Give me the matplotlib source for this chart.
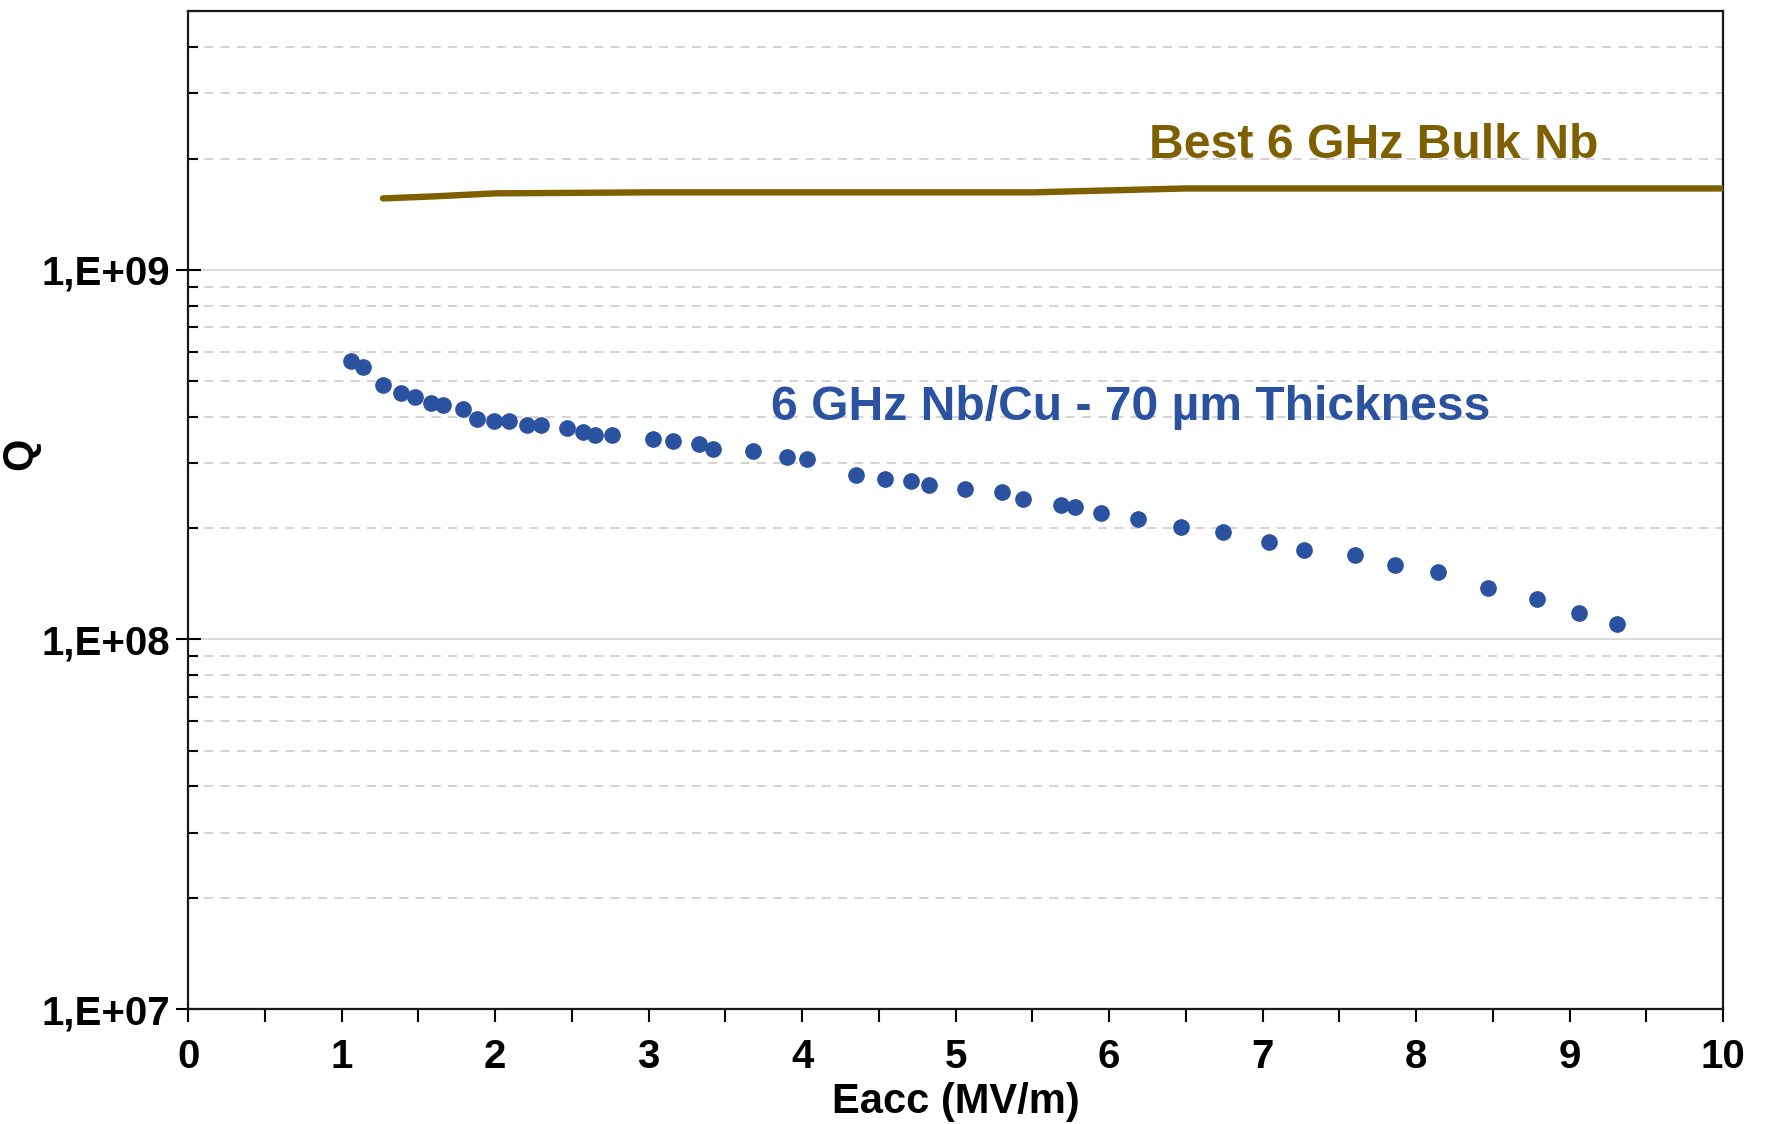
import math
import matplotlib
matplotlib.use("Agg")
import matplotlib.pyplot as plt
from matplotlib.ticker import FixedLocator, FuncFormatter, MultipleLocator, NullFormatter

plt.rcParams['font.family'] = ['Liberation Sans', 'DejaVu Sans']
plt.rcParams['font.weight'] = 'bold'

# Q vs accelerating field, 6 GHz Nb/Cu cavity (70 um film)
eacc_nbcu = [1.06, 1.14, 1.27, 1.39, 1.48, 1.58, 1.66, 1.79, 1.88, 1.99,
             2.09, 2.21, 2.30, 2.47, 2.57, 2.65, 2.76, 3.03, 3.16, 3.33,
             3.42, 3.68, 3.90, 4.03, 4.35, 4.54, 4.71, 4.83, 5.06, 5.30,
             5.44, 5.69, 5.78, 5.95, 6.19, 6.47, 6.74, 7.04, 7.27, 7.60,
             7.86, 8.14, 8.47, 8.79, 9.06, 9.31]
q_nbcu = [5.68e8, 5.47e8, 4.89e8, 4.65e8, 4.52e8, 4.36e8, 4.30e8, 4.21e8, 3.95e8, 3.90e8,
          3.91e8, 3.81e8, 3.81e8, 3.73e8, 3.65e8, 3.58e8, 3.58e8, 3.48e8, 3.45e8, 3.38e8,
          3.27e8, 3.24e8, 3.11e8, 3.07e8, 2.79e8, 2.72e8, 2.69e8, 2.62e8, 2.55e8, 2.50e8,
          2.40e8, 2.31e8, 2.28e8, 2.20e8, 2.12e8, 2.01e8, 1.95e8, 1.84e8, 1.75e8, 1.69e8,
          1.59e8, 1.52e8, 1.38e8, 1.29e8, 1.18e8, 1.10e8]

# best bulk Nb reference curve
eacc_bulk = [1.27, 1.6, 2.0, 3.0, 4.0, 5.5, 6.5, 10.0]
q_bulk = [1.56e9, 1.58e9, 1.61e9, 1.62e9, 1.62e9, 1.62e9, 1.66e9, 1.66e9]

y_major = [1e7, 1e8, 1e9]

blue = '#2B52A0'
gold = '#7F6000'

fig = plt.figure(figsize=(17.66, 11.24), dpi=100)
ax = fig.add_axes([0.1065, 0.1023, 0.8692, 0.8875])

ax.set_yscale('log')
ax.set_xlim(0, 10)
ax.set_ylim(1e7, 5e9)

# grid: solid at decades, dashed in between
ax.grid(True, which='major', axis='y', color='#D9D9D9', lw=1.3, ls='-')
ax.grid(True, which='minor', axis='y', color='#D0D0D0', lw=1.3, ls=(0, (5, 4)))
ax.set_axisbelow(True)

ax.plot(eacc_bulk, q_bulk, color=gold, lw=4.6, solid_capstyle='round', zorder=3)
ax.plot(eacc_nbcu, q_nbcu, 'o', color=blue, markersize=11, mec=blue, zorder=4)

ax.text(6.26, 2.17e9, 'Best 6 GHz Bulk Nb', color=gold, fontsize=34.7,
        fontweight='bold', ha='left', va='center')
ax.text(3.80, 4.23e8, '6 GHz Nb/Cu - 70 µm Thickness', color=blue, fontsize=34.6,
        fontweight='bold', ha='left', va='center')

# ticks
ax.xaxis.set_major_locator(MultipleLocator(1))
ax.xaxis.set_minor_locator(MultipleLocator(0.5))
ax.yaxis.set_major_locator(FixedLocator(y_major))
ax.yaxis.set_major_formatter(FuncFormatter(lambda v, p: '1,E+%02d' % round(math.log10(v))))
ax.yaxis.set_minor_formatter(NullFormatter())
ax.tick_params(axis='x', which='major', direction='out', length=9, width=1.5,
               labelsize=29, pad=12)
ax.tick_params(axis='x', which='minor', direction='out', length=9, width=1.5)
ax.tick_params(axis='y', which='major', direction='inout', length=18, width=1.5,
               labelsize=29, pad=4)
ax.tick_params(axis='y', which='minor', direction='in', length=7, width=1.5)

for s in ax.spines.values():
    s.set_linewidth(1.6)
    s.set_color('#1A1A1A')

ax.set_xlabel('Eacc (MV/m)', fontsize=30, fontweight='bold', labelpad=4)
ax.set_ylabel('Q', fontsize=30, fontweight='bold')
ax.yaxis.set_label_coords(-0.096, 0.557)

fig.savefig('out.png', dpi=100, facecolor='white')
